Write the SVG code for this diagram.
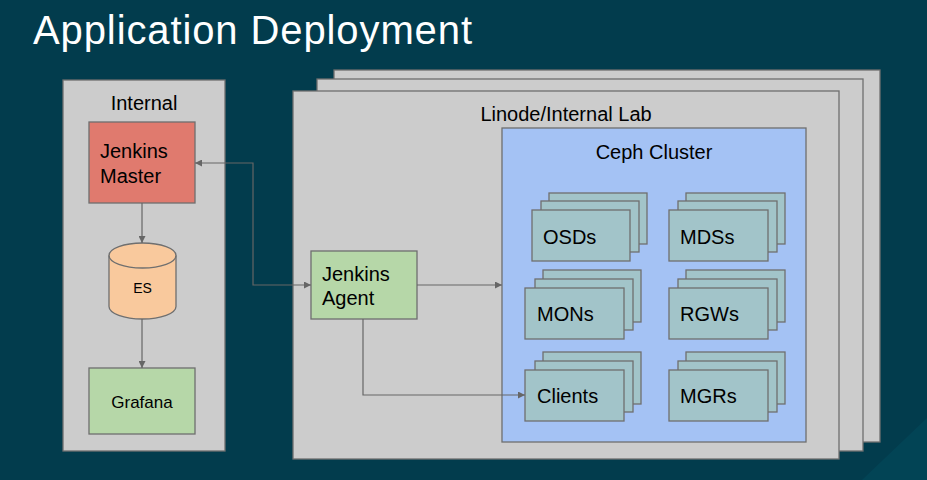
<svg xmlns="http://www.w3.org/2000/svg" width="927" height="480" viewBox="0 0 927 480">
<defs>
<style>
.bx{stroke:#6f6f6f;stroke-width:1.3}
.gray{fill:#cccccc}
.node{fill:#a2c4c9}
.green{fill:#b6d7a8}
.t{font-family:"Liberation Sans",Arial,sans-serif;fill:#000;font-size:20px}
.c{stroke:#666;stroke-width:1.2;fill:none}
</style>
<marker id="ah" viewBox="0 0 10 10" refX="10" refY="5" markerWidth="10" markerHeight="7" markerUnits="userSpaceOnUse" orient="auto-start-reverse">
<path d="M0,0 L10,5 L0,10 z" fill="#666"/>
</marker>
</defs>
<rect width="927" height="480" fill="#023c4d"/>
<polygon points="927,418 927,480 862,480" fill="#03495b" opacity="0.6"/>
<text x="33" y="44" font-family="Liberation Sans,Arial,sans-serif" font-size="40" fill="#ffffff" textLength="439">Application Deployment</text>

<g id="internal">
<rect class="bx gray" x="63" y="80" width="162" height="371"/>
<text class="t" x="144" y="110" text-anchor="middle">Internal</text>
</g>
<g id="linode">
<rect class="bx gray" x="334" y="70" width="546" height="372"/>
<rect class="bx gray" x="317" y="79" width="546" height="372"/>
<rect class="bx gray" x="293" y="91" width="546" height="368"/>
<text class="t" x="566" y="121" text-anchor="middle">Linode/Internal Lab</text>
</g>
<g id="ceph">
<rect class="bx" fill="#a4c2f4" x="502" y="128" width="304" height="314"/>
<text class="t" x="654" y="159" text-anchor="middle">Ceph Cluster</text>
</g>

<g id="jenkins-master">
<rect class="bx" fill="#e07a6e" x="89" y="122" width="106" height="81"/>
<text class="t" x="100" y="158">Jenkins</text>
<text class="t" x="100" y="183">Master</text>
</g>
<g id="es">
<path class="bx" fill="#f9c99d" d="M109,255.5 L109,306.5 A33.5,12.5 0 0 0 176,306.5 L176,255.5 A33.5,12.5 0 0 0 109,255.5 Z"/>
<path class="bx" fill="none" d="M109,255.5 A33.5,12.5 0 0 0 176,255.5"/>
<text class="t" x="142.5" y="293" text-anchor="middle" style="font-size:14px">ES</text>
</g>
<g id="grafana">
<rect class="bx green" x="89" y="368" width="106" height="66"/>
<text class="t" x="142" y="408" text-anchor="middle" style="font-size:17px">Grafana</text>
</g>
<g id="jenkins-agent">
<rect class="bx green" x="311" y="251" width="106" height="68"/>
<text class="t" x="322" y="281">Jenkins</text>
<text class="t" x="322" y="305">Agent</text>
</g>

<g id="osds">
<rect class="bx node" x="549" y="193" width="98" height="51"/>
<rect class="bx node" x="541" y="201" width="98" height="51"/>
<rect class="bx node" x="532" y="210" width="98" height="51"/>
<text class="t" x="543" y="244">OSDs</text>
</g>
<g id="mdss">
<rect class="bx node" x="686" y="193" width="99" height="51"/>
<rect class="bx node" x="678" y="201" width="99" height="51"/>
<rect class="bx node" x="669" y="210" width="99" height="51"/>
<text class="t" x="680" y="244">MDSs</text>
</g>
<g id="mons">
<rect class="bx node" x="543" y="270" width="98" height="52"/>
<rect class="bx node" x="535" y="279" width="98" height="51"/>
<rect class="bx node" x="525" y="288" width="99" height="51"/>
<text class="t" x="537" y="321">MONs</text>
</g>
<g id="rgws">
<rect class="bx node" x="686" y="270" width="99" height="52"/>
<rect class="bx node" x="678" y="279" width="99" height="51"/>
<rect class="bx node" x="669" y="288" width="99" height="51"/>
<text class="t" x="680" y="321">RGWs</text>
</g>
<g id="clients">
<rect class="bx node" x="543" y="352" width="98" height="52"/>
<rect class="bx node" x="535" y="361" width="98" height="51"/>
<rect class="bx node" x="525" y="370" width="99" height="51"/>
<text class="t" x="537" y="403">Clients</text>
</g>
<g id="mgrs">
<rect class="bx node" x="686" y="352" width="99" height="52"/>
<rect class="bx node" x="678" y="361" width="99" height="51"/>
<rect class="bx node" x="669" y="370" width="99" height="51"/>
<text class="t" x="680" y="403">MGRs</text>
</g>

<g id="connectors">
<path class="c" d="M142,203 L142,243" marker-end="url(#ah)"/>
<path class="c" d="M142,319 L142,368" marker-end="url(#ah)"/>
<path class="c" d="M195,163 L253,163 L253,285 L311,285" marker-start="url(#ah)" marker-end="url(#ah)"/>
<path class="c" d="M417,285 L502,285" marker-end="url(#ah)"/>
<path class="c" d="M363,319 L363,395 L525,395" marker-end="url(#ah)"/>
</g>
</svg>
